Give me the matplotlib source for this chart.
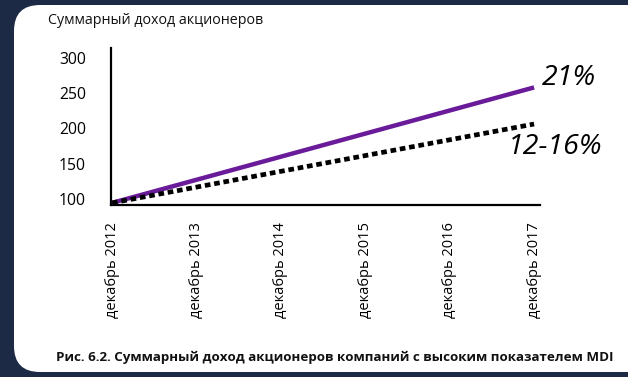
import matplotlib
matplotlib.use("Agg")
import matplotlib.pyplot as plt
from matplotlib.patches import FancyBboxPatch
from matplotlib.transforms import IdentityTransform, ScaledTranslation

plt.rcParams['font.family'] = ['Open Sans', 'DejaVu Sans']

categories = ["декабрь 2012", "декабрь 2013", "декабрь 2014",
              "декабрь 2015", "декабрь 2016", "декабрь 2017"]
line_x = [0, 5]
high_mdi = [100, 264]
others = [100, 212]
y_ticks = [100, 150, 200, 250, 300]
title = "Суммарный доход акционеров"
caption = "Рис. 6.2. Суммарный доход акционеров компаний с высоким показателем MDI"
label_high = "21%"
label_other = "12-16%"

W, H = 628, 377
fig = plt.figure(figsize=(W / 100, H / 100), dpi=100)
fig.patch.set_facecolor('#1c2a45')

card = FancyBboxPatch((14, 5), 640, 367, boxstyle="round,pad=0,rounding_size=26",
                      transform=IdentityTransform(), facecolor='white',
                      edgecolor='none', zorder=-10)
fig.patches.append(card)

ax = fig.add_axes([111 / W, 1 - 205 / H, (540 - 111) / W, (205 - 48) / H])
ax.set_zorder(5)
ax.set_facecolor('none')
ax.plot(line_x, high_mdi, color='#6a1b9a', lw=3.2, solid_capstyle='butt', zorder=3)
ax.plot(line_x, others, color='black', lw=3.4, linestyle=(0, (1.2, 0.8)),
        dash_capstyle='butt', zorder=4)

ax.set_xlim(-0.012, 5.07)
ax.set_ylim(97, 320)
ax.set_xticks(range(len(categories)))
ax.set_xticklabels(categories, rotation=90, fontsize=10.5, va='top')
ax.set_yticks(y_ticks)
ax.set_yticklabels([str(v) for v in y_ticks], fontsize=11.3)
ax.tick_params(axis='both', length=0)
ax.tick_params(axis='y', pad=18)
ax.tick_params(axis='x', pad=12)
shift = ScaledTranslation(0, 0.04, fig.dpi_scale_trans)
for lbl in ax.get_yticklabels():
    lbl.set_transform(lbl.get_transform() + shift)
for s in ['top', 'right']:
    ax.spines[s].set_visible(False)
for s in ['left', 'bottom']:
    ax.spines[s].set_linewidth(1.6)
    ax.spines[s].set_color('black')

fig.text(48 / W, 1 - 20 / H, title, fontsize=10.3, va='center', ha='left', color='#111111')
fig.text(542 / W, 1 - 78 / H, label_high, fontsize=20.5, style='italic', va='center', ha='left')
fig.text(508 / W, 1 - 147 / H, label_other, fontsize=20.5, style='italic', va='center', ha='left')
fig.text(334.5 / W, 1 - 357 / H, caption, fontsize=9.65, fontweight='bold', va='center',
         ha='center', color='#111111')

fig.savefig('out.png', dpi=100, facecolor=fig.get_facecolor())
